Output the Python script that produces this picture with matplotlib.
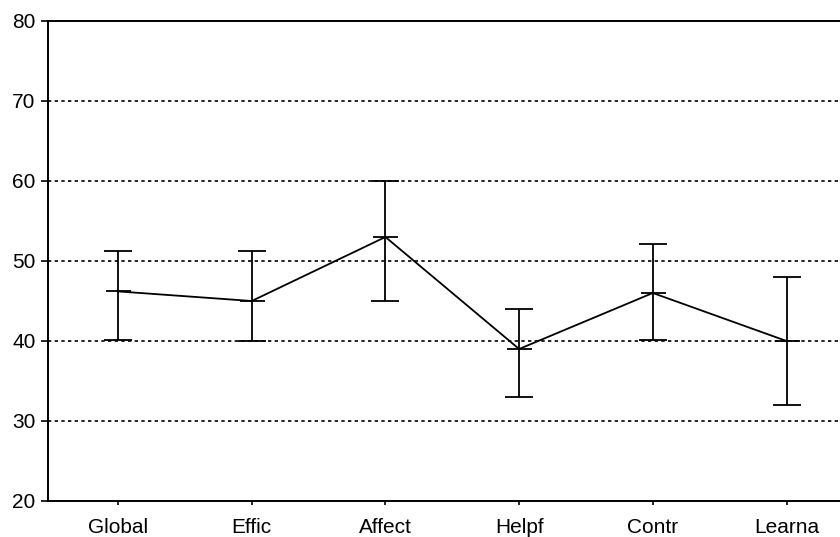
import numpy as np
import matplotlib.pyplot as plt

plt.rcParams['font.family'] = ['Liberation Sans', 'DejaVu Sans']

# Scale scores: mean with upper/lower bounds
categories = ['Global', 'Effic', 'Affect', 'Helpf', 'Contr', 'Learna']
means = [46.2, 45.0, 53.0, 39.0, 46.0, 40.0]
upper = [51.2, 51.2, 60.0, 44.0, 52.1, 48.0]
lower = [40.1, 40.0, 45.0, 33.0, 40.1, 32.0]

x = np.arange(len(categories))
means = np.array(means)
err = [means - np.array(lower), np.array(upper) - means]

fig = plt.figure(figsize=(8.4, 5.37), dpi=100)
ax = fig.add_axes([48 / 840, 36 / 537, 1 - 48 / 840, 480 / 537])

ax.errorbar(x, means, yerr=err, color='black', linewidth=1.3,
            elinewidth=1.3, capsize=10, capthick=1.3,
            marker='_', markersize=18, markeredgewidth=1.3)

ax.set_xlim(-0.524, 5.40)
ax.set_ylim(20, 80)
ax.set_yticks(range(20, 81, 10))
ax.set_xticks(x)
ax.set_xticklabels(categories)

for y in range(30, 80, 10):
    ax.axhline(y, color='black', linestyle=(0, (2, 2)), linewidth=1.2, zorder=0)

ax.spines['right'].set_visible(False)
for s in ['left', 'bottom', 'top']:
    ax.spines[s].set_linewidth(1.4)

ax.tick_params(axis='both', labelsize=15, direction='out', width=1.2)
ax.tick_params(axis='y', length=5, pad=4)
ax.tick_params(axis='x', length=3, pad=9)

fig.savefig('out.png', dpi=100)
